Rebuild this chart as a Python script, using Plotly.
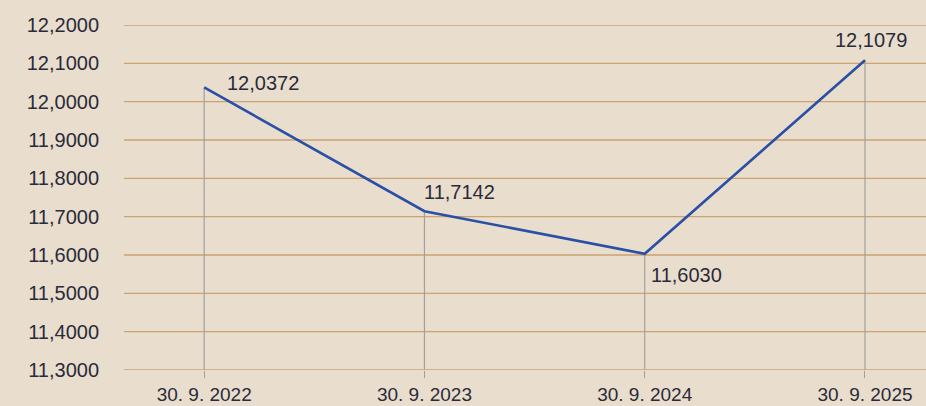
import plotly.graph_objects as go

categories = ["30. 9. 2022", "30. 9. 2023", "30. 9. 2024", "30. 9. 2025"]
values = [12.0372, 11.7142, 11.6030, 12.1079]
tick_vals = [11.3, 11.4, 11.5, 11.6, 11.7, 11.8, 11.9, 12.0, 12.1, 12.2]
y_min, y_max = 11.3, 12.2

def fmt(v):
    return f"{v:.4f}".replace(".", ",")

BG = "#e9ddcd"
GRID = "rgb(203,162,112)"
LINE = "#2a50a6"
TEXT = "#2a2b3a"
DROP = "#a3a09c"
FONT = "Liberation Sans, Arial, sans-serif"
FS = 20

fig = go.Figure()
fig.add_trace(go.Scatter(
    x=categories, y=values, mode="lines",
    line=dict(color=LINE, width=2.6),
    error_y=dict(type="data", symmetric=False, array=[0]*len(values),
                 arrayminus=[v - y_min for v in values],
                 color=DROP, thickness=1.2, width=0),
    hoverinfo="skip", showlegend=False,
))

# horizontal grid lines from tick values
for t in tick_vals:
    fig.add_shape(type="line", xref="paper", yref="y", x0=0, x1=1, y0=t, y1=t,
                  line=dict(color=GRID, width=1.3), layer="below")

placements = [
    dict(xanchor="left", yanchor="middle", xshift=21, yshift=4),
    dict(xanchor="left", yanchor="bottom", xshift=-2, yshift=6),
    dict(xanchor="left", yanchor="top", xshift=4, yshift=-8),
    dict(xanchor="center", yanchor="bottom", xshift=6, yshift=7),
]
for c, v, p in zip(categories, values, placements):
    fig.add_annotation(x=c, y=v, text=fmt(v), showarrow=False,
                       font=dict(family=FONT, size=FS, color=TEXT), **p)

fig.update_layout(
    template="none",
    width=926, height=406,
    margin=dict(l=124, r=0, t=25, b=36),
    paper_bgcolor=BG, plot_bgcolor=BG,
    font=dict(family=FONT, size=FS, color=TEXT),
)
fig.update_xaxes(
    type="category", range=[-0.364, 3.277],
    showgrid=False, zeroline=False, showline=False,
    ticks="outside", ticklen=7, tickcolor=DROP, tickwidth=1.2,
    ticklabelstandoff=0,
    tickfont=dict(family=FONT, size=19, color=TEXT),
)
fig.update_yaxes(
    range=[y_min, y_max], tickvals=tick_vals,
    ticktext=[fmt(t) for t in tick_vals],
    showgrid=False, zeroline=False, showline=False, ticks="",
    ticklabelstandoff=24,
    tickfont=dict(family=FONT, size=FS, color=TEXT),
)

fig.write_html("out.html", config={"displayModeBar": False},
               post_script="document.body.style.margin='0';document.body.style.overflow='hidden';")
